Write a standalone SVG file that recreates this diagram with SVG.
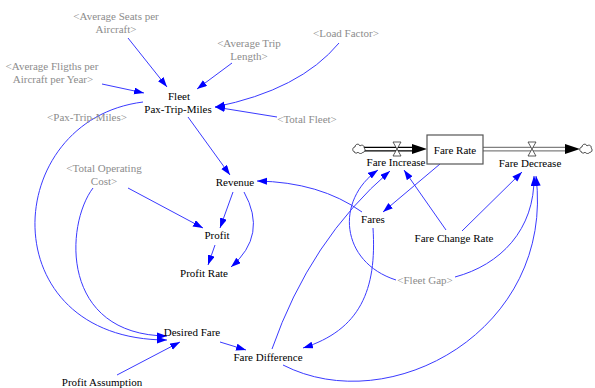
<svg xmlns="http://www.w3.org/2000/svg" width="595" height="388" viewBox="0 0 595 388">
  <defs>
    <marker id="arrow" markerUnits="userSpaceOnUse" markerWidth="11" markerHeight="8" refX="10" refY="3.5" orient="auto">
      <path d="M0,0 L10,3.5 L0,7 z" fill="#0000ff"/>
    </marker>
  </defs>

  <!-- causal links: thin blue curves ending in filled arrowheads -->
  <g id="connectors" fill="none" stroke="#3a3aff" stroke-width="1">
    <path marker-end="url(#arrow)" d="M128,38 L167,87"/>
    <path marker-end="url(#arrow)" d="M232,63 L197,89"/>
    <path marker-end="url(#arrow)" d="M102,84 L144,93"/>
    <path marker-end="url(#arrow)" d="M339,43 Q300,90 215,107"/>
    <path marker-end="url(#arrow)" d="M277,117 L215,107"/>
    <path marker-end="url(#arrow)" d="M188,117 L230,175"/>
    <path marker-end="url(#arrow)" d="M143,102 C0,120 -10,340 167,340"/>
    <path marker-end="url(#arrow)" d="M93,188 C65,225 60,335 167,336"/>
    <path marker-end="url(#arrow)" d="M128,188 L203,228"/>
    <path marker-end="url(#arrow)" d="M233,192 L220,228"/>
    <path marker-end="url(#arrow)" d="M244,192 Q268,235 231,267"/>
    <path marker-end="url(#arrow)" d="M215,245 L208,265"/>
    <path marker-end="url(#arrow)" d="M440,164 L383,212"/>
    <path marker-end="url(#arrow)" d="M373,228 C377,290 360,330 303,348"/>
    <path marker-end="url(#arrow)" d="M362,212 Q320,182 257,181"/>
    <path marker-end="url(#arrow)" d="M396,280 C340,262 335,200 378,170"/>
    <path marker-end="url(#arrow)" d="M272,349 Q310,240 390,171"/>
    <path marker-end="url(#arrow)" d="M446,230 L404,170"/>
    <path marker-end="url(#arrow)" d="M462,231 L522,172"/>
    <path marker-end="url(#arrow)" d="M455,277 C500,265 535,230 534,176"/>
    <path marker-end="url(#arrow)" d="M283,365 C390,420 555,330 536,176"/>
    <path marker-end="url(#arrow)" d="M117,375 L180,342"/>
    <path marker-end="url(#arrow)" d="M220,342 L246,350"/>
  </g>

  <!-- flow pipes with their heads -->
  <g id="pipes" fill="none" stroke-width="1.2">
    <path stroke="#000000" d="M364,147.3 L414,147.3 M364,150.9 L414,150.9"/>
    <path stroke="none" fill="#000000" d="M412,144 L427,149 L412,154 z"/>
    <path stroke="#808080" d="M483,147.3 L568,147.3 M483,150.9 L568,150.9"/>
    <path stroke="none" fill="#000000" d="M565,144 L580,149 L565,154 z"/>
  </g>

  <g id="source-cloud" fill="#ffffff" stroke="#333333" stroke-width="0.9">
    <path d="M355,152 c-3,0 -3,-5 0,-5 c0,-3 4,-4 5,-1 c2,-2 5,0 4,2 c2,1 1,5 -1,4 c-1,2 -4,2 -5,0 c-1,2 -4,1 -3,0 z"/>
  </g>
  <g id="sink-cloud" fill="#ffffff" stroke="#333333" stroke-width="0.9">
    <path d="M582,152 c-3,0 -3,-5 0,-5 c0,-3 4,-4 5,-1 c2,-2 5,0 4,2 c2,1 1,5 -1,4 c-1,2 -4,2 -5,0 c-1,2 -4,1 -3,0 z"/>
  </g>

  <g font-family="Liberation Serif" font-size="11" text-anchor="middle">
    <g id="fare-rate">
      <rect x="427" y="135" width="56" height="29" fill="#ffffff" stroke="#555555" stroke-width="1.2"/>
      <text x="455" y="154" fill="#000000">Fare Rate</text>
    </g>
    <g id="fare-increase">
      <path d="M393,142 L401,142 L393,156 L401,156 z" fill="#ffffff" stroke="#333333" stroke-width="0.8"/>
      <text x="396" y="166" fill="#000000">Fare Increase</text>
    </g>
    <g id="fare-decrease">
      <path d="M528,142 L536,142 L528,156 L536,156 z" fill="#ffffff" stroke="#333333" stroke-width="0.8"/>
      <text x="530" y="167" fill="#000000">Fare Decrease</text>
    </g>

    <g id="average-seats-per-aircraft" fill="#8c8c8c">
      <text x="116" y="20">&lt;Average Seats per</text>
      <text x="116" y="33">Aircraft&gt;</text>
    </g>
    <g id="average-trip-length" fill="#8c8c8c">
      <text x="249" y="47">&lt;Average Trip</text>
      <text x="249" y="60">Length&gt;</text>
    </g>
    <g id="load-factor" fill="#8c8c8c">
      <text x="346" y="37">&lt;Load Factor&gt;</text>
    </g>
    <g id="average-flights-per-aircraft" fill="#8c8c8c">
      <text x="52" y="70">&lt;Average Fligths per</text>
      <text x="53" y="83">Aircraft per Year&gt;</text>
    </g>
    <g id="fleet-pax-trip-miles" fill="#000000">
      <text x="179" y="100">Fleet</text>
      <text x="178" y="113">Pax-Trip-Miles</text>
    </g>
    <g id="pax-trip-miles-shadow" fill="#8c8c8c">
      <text x="87" y="121">&lt;Pax-Trip-Miles&gt;</text>
    </g>
    <g id="total-fleet" fill="#8c8c8c">
      <text x="307" y="123">&lt;Total Fleet&gt;</text>
    </g>
    <g id="total-operating-cost" fill="#8c8c8c">
      <text x="104" y="172">&lt;Total Operating</text>
      <text x="104" y="185">Cost&gt;</text>
    </g>
    <g id="revenue" fill="#000000">
      <text x="235" y="186">Revenue</text>
    </g>
    <g id="profit" fill="#000000">
      <text x="217" y="239">Profit</text>
    </g>
    <g id="profit-rate" fill="#000000">
      <text x="204" y="277">Profit Rate</text>
    </g>
    <g id="fares" fill="#000000">
      <text x="373" y="223">Fares</text>
    </g>
    <g id="fare-change-rate" fill="#000000">
      <text x="454" y="242">Fare Change Rate</text>
    </g>
    <g id="fleet-gap" fill="#8c8c8c">
      <text x="425" y="284">&lt;Fleet Gap&gt;</text>
    </g>
    <g id="desired-fare" fill="#000000">
      <text x="192" y="336">Desired Fare</text>
    </g>
    <g id="fare-difference" fill="#000000">
      <text x="268" y="361">Fare Difference</text>
    </g>
    <g id="profit-assumption" fill="#000000">
      <text x="102" y="386">Profit Assumption</text>
    </g>
  </g>
</svg>
